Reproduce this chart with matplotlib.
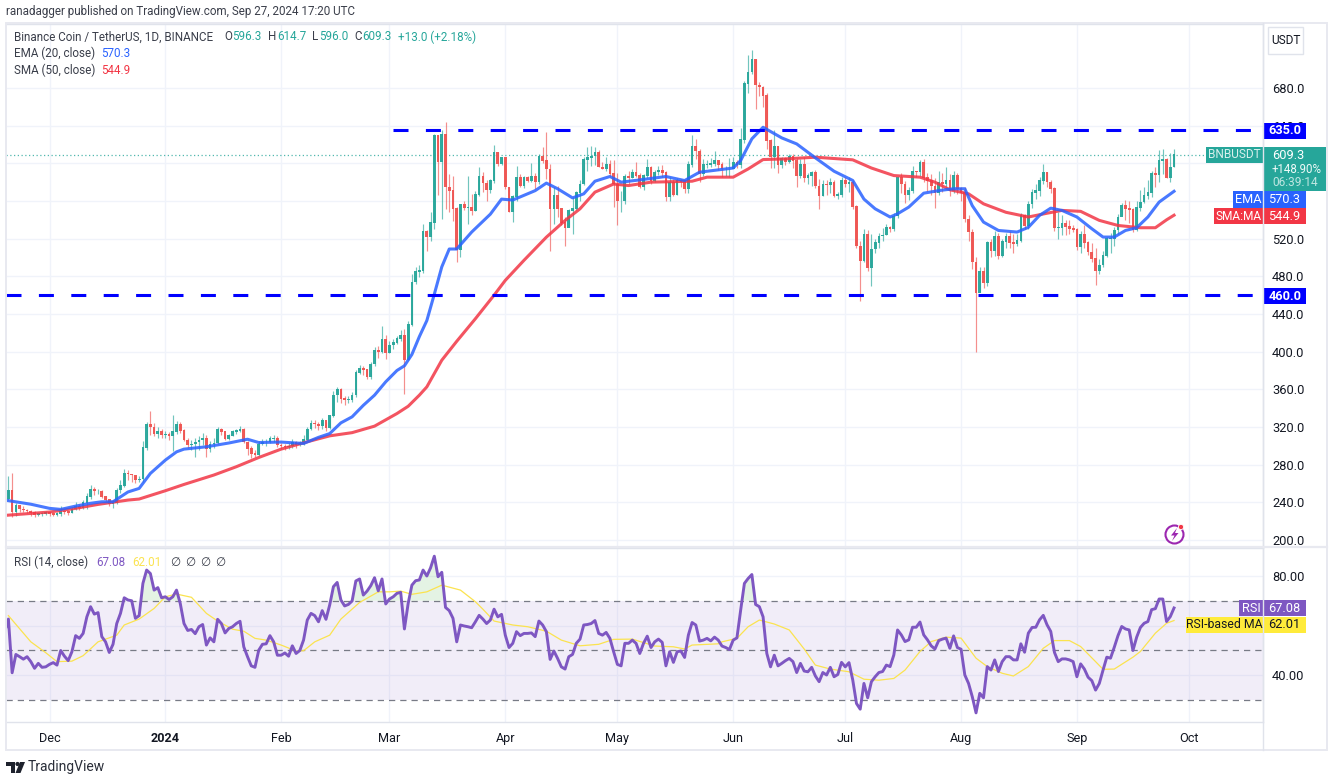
import numpy as np
import pandas as pd
import matplotlib
matplotlib.use("Agg")
import matplotlib.pyplot as plt
import matplotlib.dates as mdates
from matplotlib.patches import Rectangle, Circle, Polygon

plt.rcParams['font.family'] = ['Roboto', 'DejaVu Sans']

# ---------- DATA ----------
close_nov = [244,253,230,237,233,232,231,229,227,228,228,229]
high_nov  = [250,268,271,239,237,236,233,232,231,229,230,231]
low_nov   = [240,243,224,225,230,230,229,225,224,225,226,227]
close_dec = [228,227,228,231,230,229,233,236,234,240,246,254,252,252,246,243,239,240,253,258,271,270,269,264,265,298,323,320,313,315,312]
high_dec  = [230,229,230,236,232,231,235,240,238,243,250,258,256,254,253,247,243,243,255,264,275,274,270,269,268,305,325,337,324,320,318]
low_dec   = [226,225,226,225,228,227,229,232,232,233,233,244,248,249,245,241,236,234,238,250,256,264,262,261,262,262,296,312,310,308,308]
close_jan = [312,311,315,323,316,306,301,302,304,306,308,297,302,303,318,315,308,311,315,316,318,304,297,292,291,302,304,304,308,308,301]
high_jan  = [316,315,333,326,325,318,308,306,308,310,314,311,305,308,320,319,313,313,317,318,321,319,305,300,296,305,307,307,310,312,310]
low_jan   = [308,306,294,313,314,305,298,296,288,296,301,288,293,298,302,312,306,306,310,313,315,303,290,287,288,289,301,300,303,304,299]
close_feb = [300,299,300,304,301,302,307,318,324,323,321,327,319,332,354,360,350,349,349,354,378,382,381,373,387,401,400,413,399]
high_feb  = [303,302,303,307,305,305,311,320,327,327,325,330,325,333,358,362,361,353,353,357,380,386,385,382,389,405,406,427,418]
low_feb   = [297,296,297,298,298,300,301,306,317,319,317,318,316,318,331,347,345,343,345,347,352,376,375,371,371,385,393,399,392]
close_mar = [407,410,414,417,391,429,474,485,486,528,522,537,630,602,631,575,571,552,508,557,553,553,550,567,586,579,572,582,612,600,606]
high_mar  = [411,413,417,423,424,433,482,490,492,536,529,548,631,630,635,644,589,587,554,557,560,587,567,571,596,591,582,583,619,612,607]
low_mar   = [399,403,408,411,355,391,427,472,479,484,507,518,530,566,541,552,548,539,495,500,550,536,545,549,565,570,560,568,579,597,598]
close_apr = [575,549,565,585,576,585,582,586,580,608,603,594,552,566,552,537,532,550,552,569,578,604,606,608,612,596,594,599,589,578]
high_apr  = [606,575,566,597,589,587,587,600,590,610,617,633,599,575,576,553,543,552,564,571,582,607,617,618,617,614,601,607,603,603]
low_apr   = [573,548,538,560,575,574,580,580,573,578,600,583,507,536,543,534,512,532,525,550,560,577,592,597,598,596,594,592,585,554]
close_may = [560,560,586,585,591,587,575,587,596,582,591,593,590,565,580,567,582,580,573,599,618,613,589,599,599,600,603,599,594,594,594]
high_may  = [590,571,589,592,594,601,590,589,605,597,593,597,598,592,585,583,584,583,582,602,630,626,615,605,603,606,613,603,601,597,606]
low_may   = [535,548,557,578,584,585,574,572,584,578,580,588,585,560,560,565,566,575,568,568,596,605,580,587,595,596,597,593,586,587,585]
close_jun = [601,599,625,685,697,710,683,681,672,624,607,618,599,605,602,608,603,587,599,585,587,590,576,566,578,577,580,566,567,582]
high_jun  = [607,603,638,687,715,720,711,686,682,675,626,635,618,607,607,610,610,606,605,607,590,592,593,583,582,582,584,582,570,585]
low_jun   = [595,595,595,622,675,695,658,672,660,615,595,595,590,595,598,600,595,575,584,580,578,576,574,551,565,566,568,564,562,564]
close_jul = [578,580,554,512,497,525,489,509,516,523,524,532,531,544,585,578,567,571,592,591,601,585,582,576,569,580,578,582,571,587,573]
high_jul  = [585,586,582,556,517,530,529,525,520,526,531,536,533,547,586,590,581,575,597,592,604,605,590,589,584,592,590,596,589,592,590]
low_jul   = [575,570,551,510,454,495,486,470,505,510,518,524,527,528,542,568,558,561,568,585,587,580,571,566,553,566,570,574,565,568,567]
close_aug = [569,541,527,495,463,485,473,516,507,523,502,517,523,516,515,518,545,534,557,569,571,582,591,580,573,532,532,536,533,531,530]
high_aug  = [575,575,545,530,500,490,490,518,520,528,526,520,526,528,525,525,547,546,560,573,578,585,599,591,582,575,548,545,540,540,535]
low_aug   = [560,538,517,488,400,463,468,470,501,502,498,500,510,510,505,512,516,530,530,553,562,565,578,575,568,528,520,524,524,525,527]
close_sep = [511,525,516,506,499,486,492,502,520,520,529,543,555,552,551,530,553,559,566,569,589,588,603,604,585,596,609.3]
high_sep  = [531,528,535,518,515,510,498,507,522,526,532,546,558,561,560,553,560,572,575,582,592,596,614,615,606,611,614.7]
low_sep   = [508,505,510,503,495,471,482,490,500,505,512,525,545,540,537,527,528,549,558,562,564,575,580,589,584,580,596]

rsi_nov = [57.5,62.6,40.9,48.3,47.4,46.4,47.4,45.4,42.7,44.7,43.1,43.3]
rsi_dec = [44.3,45,44,49.9,47.6,45.8,49.4,55.9,54.8,56.8,63.5,67.6,64.6,65.2,55.5,53.4,49.1,52.4,60.8,64.9,71.2,70.3,70,62.9,64,77,82.4,81,74.3,75.3,71.2]
rsi_jan = [71.6,70.5,71.6,74.3,68.9,60.8,58,58.4,56.7,59.5,60.4,52.1,55,53.4,62.5,60.8,57,58.8,59.5,60.8,61.7,51.4,47.4,43.7,43.1,50,52.4,52.6,55.9,53.4,48]
rsi_feb = [48,48.9,47.6,51.8,48.7,49.9,54.1,62.2,64.9,64,61.5,66,62.5,68.3,75.7,77.4,70.3,67.9,68.5,69.9,78,78.8,72.3,73.9,76.1,79.3,74,78.8,68.7]
rsi_mar = [70.7,71.6,73,73.4,58.6,68.9,76.3,78.1,78.4,82.4,80,83.3,88,79.7,81.5,67.3,66,62.9,53.4,60.2,59.8,59.5,59.1,61.5,64.1,62.6,60.8,62.2,66.6,63.5,64.5]
rsi_apr = [56.1,51.1,52.8,57.5,55.9,56.8,56.8,57,55.5,61.8,60.2,57.5,46.3,49.7,46.7,43.3,42.4,47.4,48.3,52.8,54.5,60.2,60.4,60.8,62,56.8,56.1,57.2,54.8,49.4]
rsi_may = [44.3,43.7,52.8,52.8,54.1,52.8,48.7,52.8,55.7,51.1,53.4,54.5,53.2,43.7,49.4,45.1,49.4,49.7,47.1,56.1,61.2,60.2,53.7,54.1,54.8,53.8,55.3,54.1,51.7,51.1,50.3]
rsi_jun = [54.1,55,66.2,77,79,80.6,68.5,67.6,63.5,48.7,43.3,48,43.7,44.7,45.8,46.7,45.4,41,44.7,41.6,41.3,43.1,39.6,37.3,41,40,43.1,39.3,40.2,45.1]
rsi_jul = [43.3,45,38,28.5,26.2,36.6,30.8,37.3,39.3,41,41.4,44,43.4,48.1,58.2,56.2,53.5,54.2,59.3,59.3,61.4,56.2,54.2,51.8,50.5,53.9,54.5,54.9,50.8,55.8,51.1]
rsi_aug = [50.4,40,36.6,31.2,24.7,32.6,30.8,43.4,42,46.1,41.4,45.4,47.4,47.4,46.1,46.1,52.6,49.2,56.9,59.2,59.3,62.3,64.1,60.3,57.6,49.1,45.4,46.5,46.5,46.1,45.4]
rsi_sep = [39.3,44.5,42.4,39.1,37.7,33.9,36.6,42,47.2,46.8,51.2,55.9,59.6,58.6,58.2,49.9,55.3,59.2,60.9,61.6,66.4,66.8,70.7,70.7,61.6,63.6,67.08]

ema_dates = ['2023-11-19','2023-11-26','2023-12-01','2023-12-04','2023-12-08','2023-12-12','2023-12-15','2023-12-18','2023-12-22','2023-12-25','2023-12-28','2024-01-01','2024-01-04','2024-01-06','2024-01-12','2024-01-18','2024-01-23','2024-01-26','2024-02-01','2024-02-07','2024-02-11','2024-02-14','2024-02-17','2024-02-20','2024-02-23','2024-02-26','2024-02-29','2024-03-03','2024-03-05','2024-03-07','2024-03-09','2024-03-11','2024-03-13','2024-03-15','2024-03-17','2024-03-19','2024-03-23','2024-03-28','2024-03-31','2024-04-03','2024-04-09','2024-04-12','2024-04-15','2024-04-19','2024-04-22','2024-04-25','2024-04-29','2024-05-02','2024-05-07','2024-05-14','2024-05-19','2024-05-23','2024-06-01','2024-06-03','2024-06-06','2024-06-09','2024-06-14','2024-06-18','2024-06-23','2024-06-28','2024-07-03','2024-07-06','2024-07-09','2024-07-13','2024-07-15','2024-07-18','2024-07-22','2024-07-26','2024-07-30','2024-08-02','2024-08-04','2024-08-07','2024-08-11','2024-08-16','2024-08-19','2024-08-22','2024-08-25','2024-08-28','2024-09-01','2024-09-05','2024-09-08','2024-09-11','2024-09-14','2024-09-17','2024-09-20','2024-09-23','2024-09-27']
ema_vals = [242.4,238,233.6,232.5,236,239,240.6,240.6,251,254.8,270.7,284.8,293.6,296.5,299,303,307,303.5,304,302.5,309,313,324.4,330.8,343,353.8,368,380,385,397,416,433,461,490,509,509,527,546,562,561,571,579,573,563.3,567.6,581,586,580,582.4,586,581.7,590.6,595,603,626,638.3,627,620.6,605.8,591.6,581.8,562,551.7,543,546.4,553.5,568.3,571,573,573,555,537.6,528.7,527,532,544.7,552.4,550,543,530.5,521.7,521.7,528.7,531.6,543,558.8,570.3]

sma_dates = ['2023-11-19','2023-12-01','2023-12-08','2023-12-14','2023-12-22','2023-12-25','2024-01-01','2024-01-06','2024-01-14','2024-01-20','2024-01-26','2024-02-01','2024-02-08','2024-02-14','2024-02-20','2024-02-26','2024-03-03','2024-03-06','2024-03-09','2024-03-11','2024-03-15','2024-03-19','2024-03-24','2024-03-29','2024-04-01','2024-04-06','2024-04-12','2024-04-17','2024-04-21','2024-04-25','2024-04-30','2024-05-04','2024-05-10','2024-05-21','2024-05-25','2024-06-01','2024-06-05','2024-06-09','2024-06-15','2024-06-23','2024-07-03','2024-07-08','2024-07-14','2024-07-21','2024-07-25','2024-07-29','2024-08-03','2024-08-07','2024-08-13','2024-08-19','2024-08-24','2024-08-28','2024-09-02','2024-09-07','2024-09-12','2024-09-18','2024-09-22','2024-09-25','2024-09-27']
sma_vals = [226.1,229.7,233.6,237.8,242.4,243.5,252.3,259,269,277.8,287.6,296.5,304.3,310.6,314,320.9,334.3,342,353.8,362.6,390.9,411,435,460,475.7,497,521.6,539.3,551.7,569.4,578,576.4,580,581,585.3,585.3,594,604,604.7,606.5,603.7,595,587,585.3,580,571.9,567.6,557,548,543,547,550,549,539.4,534,531.6,531.6,540,544.9]

rsima_dates = ['2023-11-20','2023-11-26','2023-11-30','2023-12-03','2023-12-07','2023-12-10','2023-12-14','2023-12-19','2023-12-21','2023-12-25','2023-12-29','2024-01-01','2024-01-04','2024-01-08','2024-01-12','2024-01-15','2024-01-19','2024-01-22','2024-01-25','2024-01-28','2024-02-01','2024-02-05','2024-02-07','2024-02-10','2024-02-14','2024-02-17','2024-02-22','2024-02-27','2024-03-01','2024-03-04','2024-03-07','2024-03-11','2024-03-15','2024-03-20','2024-03-24','2024-03-26','2024-03-29','2024-04-03','2024-04-07','2024-04-12','2024-04-16','2024-04-21','2024-04-26','2024-04-30','2024-05-05','2024-05-11','2024-05-16','2024-05-19','2024-05-21','2024-05-28','2024-05-29','2024-06-02','2024-06-05','2024-06-08','2024-06-12','2024-06-16','2024-06-20','2024-06-23','2024-06-27','2024-07-02','2024-07-06','2024-07-10','2024-07-14','2024-07-17','2024-07-21','2024-07-24','2024-07-28','2024-08-01','2024-08-05','2024-08-08','2024-08-12','2024-08-15','2024-08-19','2024-08-23','2024-08-26','2024-08-30','2024-09-02','2024-09-06','2024-09-08','2024-09-11','2024-09-16','2024-09-18','2024-09-22','2024-09-25','2024-09-27']
rsima_vals = [64,53.4,49,45.4,45.6,47.8,53.4,56.1,60.2,62.6,66.9,71.6,72.7,71.4,64.9,61.8,58.5,57.7,54.8,54.1,52.1,49.7,49.8,53.4,56.1,62.6,69.3,73.6,73.6,73.9,72.6,73.6,76.3,74.3,69.6,66.6,61.8,60.2,59.5,57.7,54.1,51.8,52.4,54.4,54.5,51.7,51.4,50.5,52.1,52.6,53.4,54.8,59.5,62.2,60.6,58.2,50.5,44,42.4,41.3,38.3,37.9,38.6,42,49.5,53.5,55.3,54.9,46.8,43.4,40.7,39.6,43.4,50.8,53.9,53.9,51.5,45.4,42.3,42.4,47.2,49.5,56.9,60.9,62.01]

price_ticks = [200,240,280,320,360,400,440,480,520,640,680]
rsi_ticks = [40,80]
month_dates = ['2023-12-01','2024-01-01','2024-02-01','2024-03-01','2024-04-01','2024-05-01','2024-06-01','2024-07-01','2024-08-01','2024-09-01','2024-10-01']
month_labels = ['Dec','2024','Feb','Mar','Apr','May','Jun','Jul','Aug','Sep','Oct']
resistance = 635.0
support = 460.0

closes = np.array(close_nov+close_dec+close_jan+close_feb+close_mar+close_apr+close_may+close_jun+close_jul+close_aug+close_sep, float)
highs = np.array(high_nov+high_dec+high_jan+high_feb+high_mar+high_apr+high_may+high_jun+high_jul+high_aug+high_sep, float)
lows = np.array(low_nov+low_dec+low_jan+low_feb+low_mar+low_apr+low_may+low_jun+low_jul+low_aug+low_sep, float)
rsi = np.array(rsi_nov+rsi_dec+rsi_jan+rsi_feb+rsi_mar+rsi_apr+rsi_may+rsi_jun+rsi_jul+rsi_aug+rsi_sep, float)
days = pd.date_range('2023-11-19', '2024-09-27', freq='D')
assert len(closes) == len(highs) == len(lows) == len(rsi) == len(days)
x = mdates.date2num(days)
opens = np.concatenate(([240.0], closes[:-1]))
opens[-1] = 596.3

# ---------- STYLE ----------
W, H = 1337, 780
UP, DOWN = '#26a69a', '#ef5350'
BLUE, RED = '#2962ff', '#f23645'
PURPLE, YEL = '#7e57c2', '#fbe34f'
GRID, FRAME, INK = '#f0f3fa', '#e0e3eb', '#131722'
FS = 8.8
LFS = 8.4

fig = plt.figure(figsize=(W/100, H/100), dpi=100, facecolor='white')
def box(l, t, r, b):
    return [l/W, 1-b/H, (r-l)/W, (b-t)/H]
ax = fig.add_axes(box(6, 24, 1263, 547))
ar = fig.add_axes(box(6, 548, 1263, 722), sharex=ax)

dec1 = mdates.date2num(pd.Timestamp('2023-12-01'))
pxday = 3.736
xlim = (dec1 + (6-49.5)/pxday, dec1 + (1263-49.5)/pxday)
ax.set_xlim(xlim)
py = 0.9417
ax.set_ylim(200+(540-547)/py, 200+(540-24)/py)
ar.set_ylim(40-(722-675)/2.475, 80+(576-548)/2.475)

months = mdates.date2num(pd.to_datetime(month_dates))
for a in (ax, ar):
    a.set_axisbelow(True)
    for s in a.spines.values():
        s.set_color(FRAME); s.set_linewidth(1)
    a.spines['left'].set_visible(False)
    a.vlines(months, *a.get_ylim(), color=GRID, lw=1, zorder=0)
    a.yaxis.tick_right()
    a.tick_params(axis='y', length=0, pad=6.5, labelsize=FS+0.5, labelcolor=INK)
    a.set_autoscale_on(False)

ax.set_yticks(price_ticks, [f'{v:.1f}' for v in price_ticks])
ax.hlines(price_ticks+[560,600], *xlim, color=GRID, lw=1, zorder=0)
ax.tick_params(axis='x', length=0, labelbottom=False)

# candles
cols = np.where(closes >= opens, UP, DOWN)
ax.vlines(x, lows, highs, colors=cols, lw=0.85, alpha=0.65, zorder=2)
ax.bar(x, np.abs(closes-opens)+0.6, bottom=np.minimum(closes, opens)-0.3, width=0.72, color=cols, lw=0, alpha=0.95, zorder=3)
ax.plot(mdates.date2num(pd.to_datetime(sma_dates)), sma_vals, color=RED, lw=2.2, alpha=0.85, zorder=4, solid_joinstyle='round')
ax.plot(mdates.date2num(pd.to_datetime(ema_dates)), ema_vals, color=BLUE, lw=2.2, alpha=0.85, zorder=5, solid_joinstyle='round')

# resistance / support
dash = (0, (15/2.2*0.72, 17.4/2.2*0.72))
ax.plot([dec1+(393-49.5)/pxday, dec1+(1253-49.5)/pxday], [resistance]*2, color='#0000ff', lw=2.2, ls=dash, dash_capstyle='butt', zorder=6)
ax.plot([dec1+(6-49.5)/pxday, dec1+(1254-49.5)/pxday], [support]*2, color='#0000ff', lw=2.2, ls=dash, dash_capstyle='butt', zorder=6)
ax.axhline(closes[-1], color=UP, lw=0.9, ls=(0, (1, 2)), alpha=0.8, zorder=1)

# RSI
ar.axhspan(30, 70, color=PURPLE, alpha=0.1, lw=0, zorder=1)
ar.hlines([70, 50, 30], *xlim, color='#787b86', lw=0.9, ls=(0, (5, 4)), zorder=2)
ar.hlines([40, 60, 80], *xlim, color=GRID, lw=1, zorder=0)
ar.fill_between(x, 70, rsi, where=rsi > 70, interpolate=True, color='#4caf50', alpha=0.15, lw=0, zorder=2)
ar.plot(mdates.date2num(pd.to_datetime(rsima_dates)), rsima_vals, color=YEL, lw=0.9, zorder=3)
ar.plot(x, rsi, color=PURPLE, lw=2.1, zorder=4, solid_joinstyle='round')
ar.set_yticks(rsi_ticks, [f'{v:.2f}' for v in rsi_ticks])
ar.set_xticks(months, month_labels)
ar.tick_params(axis='x', length=0, pad=7, labelsize=FS+0.3, labelcolor=INK)
ar.get_xticklabels()[1].set_fontweight('bold')

# ---------- OVERLAY (pixel coordinates for chrome) ----------
ov = fig.add_axes([0, 0, 1, 1], zorder=20)
ov.set_xlim(0, W); ov.set_ylim(H, 0); ov.axis('off'); ov.patch.set_alpha(0)
def T(px, py_, s, c=INK, fs=LFS, ha='left', **k):
    return ov.text(px, py_, s, color=c, fontsize=fs, ha=ha, va='center', **k)
def R(l, t, r, b, fc, **k):
    ov.add_patch(Rectangle((l, t), r-l, b-t, fc=fc, ec='none', **k))

ov.add_patch(Rectangle((5.5, 23), 1321, 727, fc='none', ec='#e8e9f0', lw=1.4))
ov.plot([1263, 1263], [23, 750], color=FRAME, lw=1)
ov.plot([6, 1327], [547, 547], color='#e8e9f0', lw=1.6)

T(6, 11, 'ranadagger published on TradingView.com, Sep 27, 2024 17:20 UTC', c='#3a3e4a', fs=8.4)

# legends
LG = '#3a3e4a'
T(14, 37, 'Binance Coin / TetherUS, 1D, BINANCE', c=LG)
for px, s, c in [(224,'O',LG),(232,'596.3',UP),(268,'H',LG),(277,'614.7',UP),(312,'L',LG),(319,'596.0',UP),(354,'C',LG),(362,'609.3',UP),(398,'+13.0 (+2.18%)',UP)]:
    T(px, 37, s, c=c)
T(14, 53.5, 'EMA (20, close)', c=LG); T(101, 53.5, '570.3', c=BLUE)
T(14, 70.5, 'SMA (50, close)', c=LG); T(101, 70.5, '544.9', c=RED)
T(14, 562, 'RSI (14, close)', c=LG); T(96, 562, '67.08', c=PURPLE); T(132, 562, '62.01', c=YEL)
for px in (170, 185, 200, 215):
    T(px, 562, '∅', c=LG)

# USDT box
ov.add_patch(Rectangle((1268, 27), 35, 27, fc='white', ec='#e0e3eb', lw=1))
T(1285.5, 40.5, 'USDT', fs=8.6, ha='center')

# price labels
def tag(l, t, r, b, fc, s, c='white', fs=FS+0.4, cx=None, **k):
    R(l, t, r, b, fc)
    T((l+r)/2 if cx is None else cx, (t+b)/2, s, c=c, fs=fs, ha='center', **k)
tag(1264, 123, 1306, 139, '#0000ff', '635.0', fontweight='bold')
tag(1264, 288, 1306, 304, '#0000ff', '460.0', fontweight='bold')
R(1206, 147, 1263, 163, UP); T(1234.5, 155, 'BNBUSDT', c='#d8f0ed', fs=8.6, ha='center')
R(1263, 147, 1326, 191, UP)
T(1272, 155.5, '609.3', c='white', fs=FS+0.4)
T(1272, 169.5, '+148.90%', c='#eefaf8', fs=8.3)
T(1272, 183, '06:39:14', c='#bfe6e1', fs=8.6)
tag(1233, 191, 1263, 208, BLUE, 'EMA')
tag(1263, 191, 1306, 208, BLUE, '570.3')
tag(1214, 208, 1263, 224, RED, 'SMA:MA', fs=8.6)
tag(1263, 208, 1306, 224, RED, '544.9')
tag(1239, 600, 1263, 616, PURPLE, 'RSI')
tag(1263, 600, 1306, 616, PURPLE, '67.08')
tag(1186, 617, 1263, 633, '#ffeb3b', 'RSI-based MA', c=INK, fs=8.8)
tag(1263, 617, 1306, 633, '#ffeb3b', '62.01', c=INK)

# flash icon
ov.add_patch(Circle((1174.5, 534.5), 9, fc='white', ec='#9c27b0', lw=1.5))
ov.add_patch(Polygon([(1177,528),(1171,535.5),(1174.5,535.5),(1172,541),(1178.5,533),(1175,533)], fc='#9c27b0', ec='none'))
ov.add_patch(Circle((1181, 527), 2.6, fc='#f23645', ec='white', lw=0.6))

# TradingView logo
ov.add_patch(Polygon([(6,762),(15,762),(15,773),(11,773),(11,766),(6,766)], fc='#1e222d', ec='none'))
ov.add_patch(Circle((17.5, 764), 2.1, fc='#1e222d', ec='none'))
ov.add_patch(Polygon([(20,762),(25,762),(20.5,773),(15.5,773)], fc='#1e222d', ec='none'))
T(28, 767, 'TradingView', c='#2a2e39', fs=10)

fig.savefig('out.png', dpi=100, facecolor='white')
